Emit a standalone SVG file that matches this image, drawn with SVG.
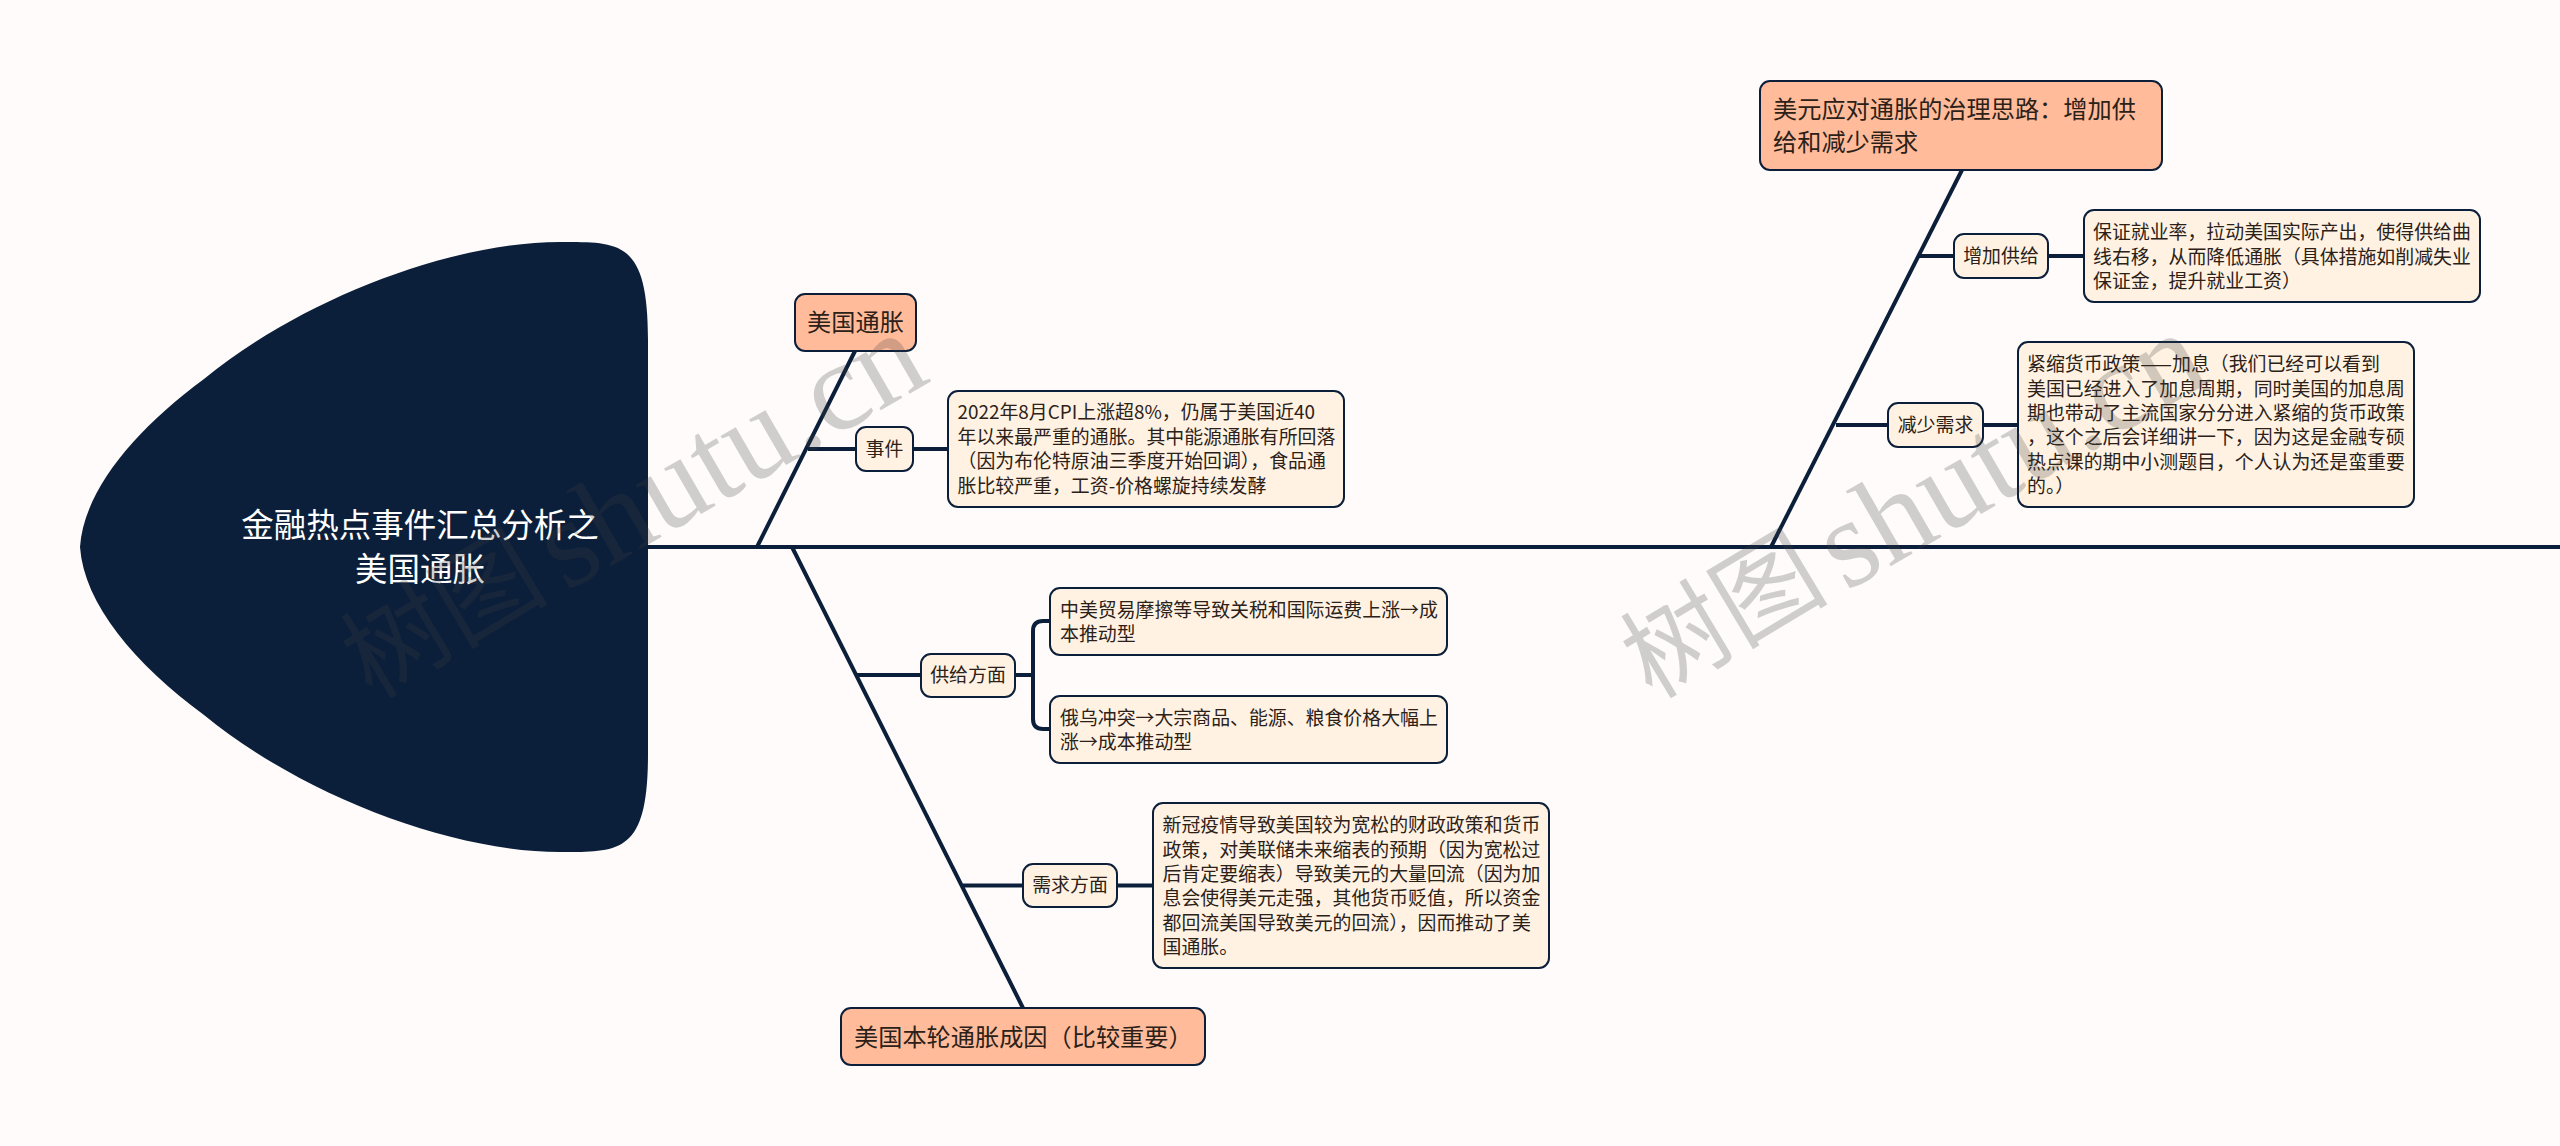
<svg xmlns="http://www.w3.org/2000/svg" width="2560" height="1146" viewBox="0 0 2560 1146">
<style>
text{font-family:"Noto Sans CJK SC","Noto Sans",sans-serif;fill:#2b2118}
.topic{fill:#ffbb9a;stroke:#0c1f3a;stroke-width:2}
.leaf{fill:#fff2e2;stroke:#0c1f3a;stroke-width:2}
.t24{font-size:24.200px}
.t19{font-size:18.900px}
.c{text-anchor:middle}
.root{fill:#fff;font-size:32.500px;text-anchor:middle}
#connectors path{fill:none;stroke:#0c1f3a;stroke-width:4}
.wm{fill:#3e3e3e;fill-opacity:.24}
.wm1{font-size:104px}
.wm2{font-family:"Liberation Serif",serif;font-size:126px}
</style>
<rect width="2560" height="1146" fill="#fefbfa"/>
<g id="connectors">
<path d="M648 547H2560"/>
<path d="M757 547L855 351"/>
<path d="M792 547L1023 1008"/>
<path d="M1771 547L1962 170"/>
<path d="M808 449H856M913 449H948"/>
<path d="M857 675H921M1015 675H1033M1050 621H1043Q1033 621 1033 631V719Q1033 729 1043 729H1050"/>
<path d="M963 885.500H1023M1117 885.500H1153"/>
<path d="M1919 256H1954M2048 256H2084"/>
<path d="M1836 425H1888M1983 425H2018"/>
</g>
<g id="root">
<path d="M80 547C84 490 135 430 204 379C300 300 450 242 560 242C620 242 648 240 648 340L648 754C648 854 620 852 560 852C450 852 300 794 204 715C135 664 84 604 80 547Z" fill="#0c1f3a"/>
<text class="root" x="420" y="537">金融热点事件汇总分析之</text>
<text class="root" x="420" y="581">美国通胀</text>
</g>
<g id="topic-inflation">
<rect class="topic" x="795" y="294" width="121" height="57" rx="10"/>
<text class="t24 c" x="855.500" y="331">美国通胀</text>
</g>
<g id="topic-causes">
<rect class="topic" x="841" y="1008" width="364" height="57" rx="10"/>
<text class="t24" x="854" y="1046">美国本轮通胀成因（比较重要）</text>
</g>
<g id="topic-response">
<rect class="topic" x="1760" y="81" width="402" height="89" rx="10"/>
<text class="t24" x="1773" y="118">美元应对通胀的治理思路：增加供</text>
<text class="t24" x="1773" y="151">给和减少需求</text>
</g>
<g id="node-event">
<rect class="leaf" x="856" y="427" width="57" height="44" rx="10"/>
<text class="t19 c" x="884.500" y="456">事件</text>
</g>
<g id="leaf-event">
<rect class="leaf" x="948" y="391" width="396" height="116" rx="10"/>
<text class="t19" x="957.500" y="419">2022年8月CPI上涨超8%，仍属于美国近40</text>
<text class="t19" x="957.500" y="444">年以来最严重的通胀。其中能源通胀有所回落</text>
<text class="t19" x="957.500" y="468">（因为布伦特原油三季度开始回调），食品通</text>
<text class="t19" x="957.500" y="493">胀比较严重，工资-价格螺旋持续发酵</text>
</g>
<g id="node-supply">
<rect class="leaf" x="921" y="654" width="94" height="43" rx="10"/>
<text class="t19 c" x="968" y="682">供给方面</text>
</g>
<g id="leaf-supply-1">
<rect class="leaf" x="1050" y="588" width="397" height="67" rx="10"/>
<text class="t19" x="1060" y="617">中美贸易摩擦等导致关税和国际运费上涨→成</text>
<text class="t19" x="1060" y="641">本推动型</text>
</g>
<g id="leaf-supply-2">
<rect class="leaf" x="1050" y="696" width="397" height="67" rx="10"/>
<text class="t19" x="1060" y="725">俄乌冲突→大宗商品、能源、粮食价格大幅上</text>
<text class="t19" x="1060" y="749">涨→成本推动型</text>
</g>
<g id="node-demand">
<rect class="leaf" x="1023" y="864" width="94" height="43" rx="10"/>
<text class="t19 c" x="1070" y="892">需求方面</text>
</g>
<g id="leaf-demand">
<rect class="leaf" x="1153" y="803" width="396" height="165" rx="10"/>
<text class="t19" x="1162.500" y="832">新冠疫情导致美国较为宽松的财政政策和货币</text>
<text class="t19" x="1162.500" y="857">政策，对美联储未来缩表的预期（因为宽松过</text>
<text class="t19" x="1162.500" y="881">后肯定要缩表）导致美元的大量回流（因为加</text>
<text class="t19" x="1162.500" y="905">息会使得美元走强，其他货币贬值，所以资金</text>
<text class="t19" x="1162.500" y="930">都回流美国导致美元的回流），因而推动了美</text>
<text class="t19" x="1162.500" y="954">国通胀。</text>
</g>
<g id="node-increase">
<rect class="leaf" x="1954" y="234" width="94" height="44" rx="10"/>
<text class="t19 c" x="2001" y="263">增加供给</text>
</g>
<g id="leaf-increase">
<rect class="leaf" x="2084" y="210" width="396" height="92" rx="10"/>
<text class="t19" x="2093" y="239">保证就业率，拉动美国实际产出，使得供给曲</text>
<text class="t19" x="2093" y="264">线右移，从而降低通胀（具体措施如削减失业</text>
<text class="t19" x="2093" y="288">保证金，提升就业工资）</text>
</g>
<g id="node-reduce">
<rect class="leaf" x="1888" y="403" width="95" height="44" rx="10"/>
<text class="t19 c" x="1935.500" y="432">减少需求</text>
</g>
<g id="leaf-reduce">
<rect class="leaf" x="2018" y="342" width="396" height="165" rx="10"/>
<text class="t19" x="2027" y="371">紧缩货币政策——加息（我们已经可以看到</text>
<text class="t19" x="2027" y="396">美国已经进入了加息周期，同时美国的加息周</text>
<text class="t19" x="2027" y="420">期也带动了主流国家分分进入紧缩的货币政策</text>
<text class="t19" x="2027" y="444">，这个之后会详细讲一下，因为这是金融专硕</text>
<text class="t19" x="2027" y="469">热点课的期中小测题目，个人认为还是蛮重要</text>
<text class="t19" x="2027" y="493">的。）</text>
</g>
<g id="watermarks">
<text class="wm wm1" transform="translate(372 700) rotate(-31)">树图</text>
<text class="wm wm2" transform="translate(566 592) rotate(-30)">shutu.cn</text>
<text class="wm wm1" transform="translate(1652 700) rotate(-31)">树图</text>
<text class="wm wm2" transform="translate(1846 592) rotate(-30)">shutu.cn</text>
</g>
</svg>
